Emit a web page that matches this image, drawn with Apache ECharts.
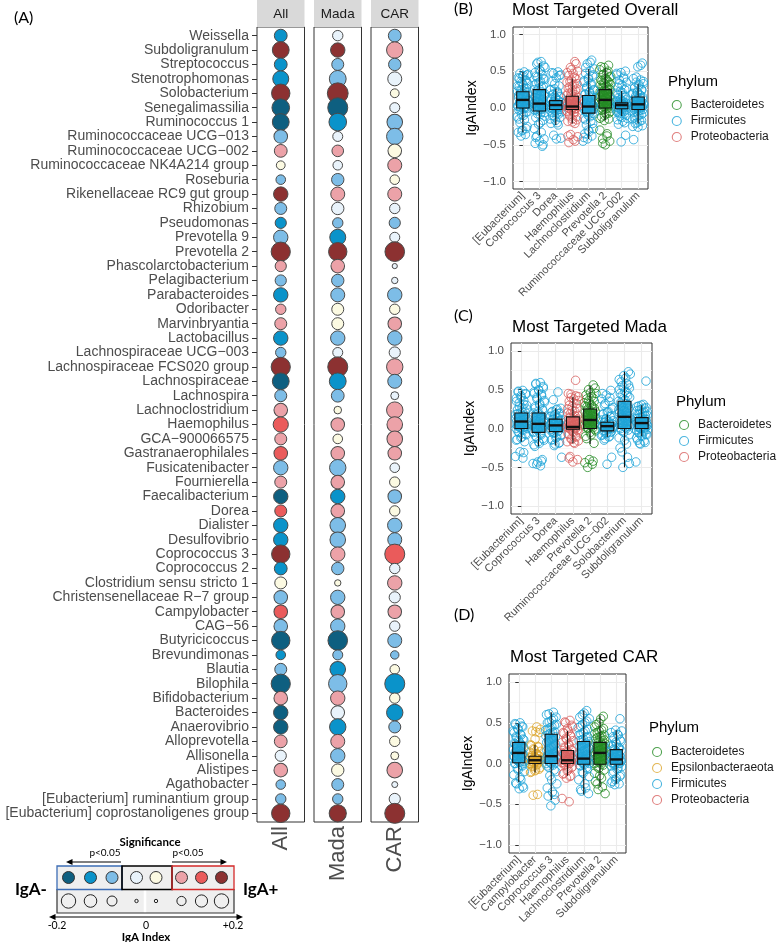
<!DOCTYPE html>
<html>
<head>
<meta charset="utf-8">
<script src="https://cdn.jsdelivr.net/npm/echarts@6/dist/echarts.min.js"></script>
<style>
  html, body { margin: 0; padding: 0; background: #fff; }
  #chart { width: 778px; height: 942px; }
</style>
</head>
<body>
<div id="chart"></div>
<script>
const FONT = '"Liberation Sans", Arial, sans-serif';
const LFONT = 'Lato, "Open Sans", sans-serif';

// ---- panel A: genera and their IgA index / significance level per cohort
const taxa = ['Weissella', 'Subdoligranulum', 'Streptococcus', 'Stenotrophomonas', 'Solobacterium',
  'Senegalimassilia', 'Ruminococcus 1', 'Ruminococcaceae UCG−013', 'Ruminococcaceae UCG−002',
  'Ruminococcaceae NK4A214 group', 'Roseburia', 'Rikenellaceae RC9 gut group', 'Rhizobium', 'Pseudomonas',
  'Prevotella 9', 'Prevotella 2', 'Phascolarctobacterium', 'Pelagibacterium', 'Parabacteroides', 'Odoribacter',
  'Marvinbryantia', 'Lactobacillus', 'Lachnospiraceae UCG−003', 'Lachnospiraceae FCS020 group',
  'Lachnospiraceae', 'Lachnospira', 'Lachnoclostridium', 'Haemophilus', 'GCA−900066575',
  'Gastranaerophilales', 'Fusicatenibacter', 'Fournierella', 'Faecalibacterium', 'Dorea', 'Dialister',
  'Desulfovibrio', 'Coprococcus 3', 'Coprococcus 2', 'Clostridium sensu stricto 1',
  'Christensenellaceae R−7 group', 'Campylobacter', 'CAG−56', 'Butyricicoccus', 'Brevundimonas', 'Blautia',
  'Bilophila', 'Bifidobacterium', 'Bacteroides', 'Anaerovibrio', 'Alloprevotella', 'Allisonella', 'Alistipes',
  'Agathobacter', '[Eubacterium] ruminantium group', '[Eubacterium] coprostanoligenes group'];

const cohorts = ['All', 'Mada', 'CAR'];

const igaAll = [-0.11, 0.16, -0.11, -0.15, 0.18, -0.17, -0.16, -0.12, 0.11, 0.06,
  -0.07, 0.13, -0.10, -0.09, -0.13, 0.19, 0.09, -0.09, -0.13, 0.08,
  0.10, -0.13, -0.08, 0.19, -0.16, -0.10, 0.12, 0.14, 0.10, 0.12,
  -0.13, 0.10, -0.13, 0.10, -0.13, -0.13, 0.18, -0.11, 0.10, -0.12,
  0.12, -0.12, -0.18, -0.07, -0.10, -0.19, 0.12, -0.13, -0.13, 0.11,
  -0.09, 0.12, -0.07, -0.08, 0.18];
const sigAll = [2, 3, 2, 2, 3, 3, 3, 1, 1, 0, 1, 3, 1, 2, 1, 3, 1, 1, 2, 1,
  1, 2, 1, 3, 3, 1, 1, 2, 1, 2, 1, 1, 3, 2, 2, 2, 3, 2, 0, 1,
  2, 1, 3, 2, 1, 3, 1, 3, 3, 1, 0, 1, 1, 1, 3];

const igaMada = [-0.08, 0.13, -0.10, -0.16, 0.21, -0.20, -0.17, -0.075, 0.095, -0.07,
  -0.105, 0.125, -0.105, -0.08, -0.15, 0.18, 0.12, -0.105, -0.125, 0.10,
  0.10, -0.13, -0.075, 0.20, -0.16, -0.11, 0.045, 0.12, 0.07, 0.12,
  -0.155, 0.12, -0.13, 0.12, -0.145, -0.145, 0.13, -0.105, 0.03, -0.13,
  0.12, -0.13, -0.195, -0.075, -0.145, -0.18, 0.13, -0.12, -0.155, 0.125,
  -0.13, 0.105, -0.10, -0.08, 0.165];
const sigMada = [0, 3, 1, 1, 3, 3, 2, 0, 1, 0, 1, 1, 0, 1, 2, 3, 1, 1, 1, 0,
  0, 1, 0, 3, 2, 1, 0, 1, 0, 1, 1, 1, 2, 1, 1, 1, 1, 1, 0, 1,
  1, 1, 3, 1, 2, 1, 1, 0, 2, 1, 1, 0, 1, 1, 3];

const igaCar = [-0.11, 0.155, -0.105, -0.125, 0.06, -0.075, -0.145, -0.155, 0.12, 0.125,
  0.07, 0.125, -0.08, -0.09, -0.075, 0.195, -0.015, -0.03, -0.13, 0.08,
  0.12, -0.13, -0.09, 0.155, -0.125, -0.05, 0.155, 0.145, 0.145, 0.12,
  -0.07, 0.08, -0.12, 0.08, -0.13, -0.125, 0.20, -0.08, 0.13, -0.09,
  0.12, -0.08, -0.125, -0.055, 0.07, -0.20, 0.08, -0.155, -0.10, 0.08,
  0.05, 0.145, -0.025, -0.09, 0.20];
const sigCar = [1, 1, 1, 0, 0, 0, 1, 1, 0, 1, 0, 1, 0, 1, 0, 3, 0, 0, 1, 0,
  1, 1, 0, 1, 1, 0, 1, 1, 1, 1, 0, 0, 1, 0, 1, 1, 2, 0, 1, 0,
  1, 0, 1, 1, 0, 2, 0, 2, 1, 0, 0, 1, 0, 0, 3];

// ---- panels B-D
const yTicks = [-1, -0.5, 0, 0.5, 1];
const yMinorTicks = [-0.75, -0.25, 0.25, 0.75];

const catsOverall = ['[Eubacterium]', 'Coprococcus 3', 'Dorea', 'Haemophilus', 'Lachnoclostridium',
  'Prevotella 2', 'Ruminococcaceae UCG−002', 'Subdoligranulum'];
const phylaOverall = ['Firmicutes', 'Firmicutes', 'Firmicutes', 'Proteobacteria', 'Firmicutes',
  'Bacteroidetes', 'Firmicutes', 'Firmicutes'];
// [min, Q1, median, Q3, max]
const boxOverall = [[-0.33, 0.0, 0.11, 0.22, 0.49], [-0.37, -0.04, 0.06, 0.25, 0.61],
  [-0.23, -0.02, 0.04, 0.10, 0.26], [-0.21, -0.02, 0.02, 0.16, 0.40], [-0.42, -0.07, 0.02, 0.17, 0.53],
  [-0.17, 0.0, 0.11, 0.25, 0.54], [-0.11, -0.01, 0.04, 0.07, 0.23], [-0.21, -0.02, 0.05, 0.15, 0.33]];
const ptsOverall = [
  [0.49, 0.47, 0.45, 0.43, 0.41, 0.38, 0.36, 0.33, 0.31, 0.29, 0.27, 0.25, 0.23, 0.22, 0.2, 0.18, 0.16, 0.14, 0.12, 0.11, 0.1, 0.08, 0.07, 0.05, 0.04, 0.03, 0.02, 0.01, 0, -0.01, -0.03, -0.06, -0.09, -0.12, -0.16, -0.2, -0.25, -0.3, -0.33, -0.36, -0.38,
   0.46, 0.44, 0.4, 0.37, 0.34, 0.3, 0.26, 0.24, 0.21, 0.19, 0.17, 0.15, 0.13, 0.1, 0.09, 0.06, 0.05, 0.03, 0.02, 0, -0.02, -0.05, -0.1, -0.15, -0.28, -0.31],
  [0.63, 0.6, 0.57, 0.52, 0.48, 0.45, 0.42, 0.39, 0.36, 0.33, 0.3, 0.27, 0.25, 0.22, 0.19, 0.16, 0.13, 0.1, 0.08, 0.07, 0.06, 0.05, 0.04, 0.02, 0.01, 0, -0.02, -0.04, -0.06, -0.09, -0.13, -0.17, -0.22, -0.28, -0.33, -0.38, -0.42, -0.45, -0.48, -0.52,
   0.62, 0.55, 0.5, 0.43, 0.4, 0.35, 0.31, 0.28, 0.24, 0.2, 0.17, 0.14, 0.12, 0.09, 0.06, 0.05, 0.03, 0.01, -0.01, -0.03, -0.05, -0.08, -0.11, -0.2, -0.4, -0.5],
  [0.49, 0.47, 0.45, 0.41, 0.36, 0.3, 0.26, 0.24, 0.21, 0.18, 0.15, 0.13, 0.11, 0.1, 0.09, 0.08, 0.07, 0.06, 0.05, 0.04, 0.04, 0.03, 0.02, 0.01, 0, -0.01, -0.02, -0.03, -0.05, -0.07, -0.1, -0.13, -0.17, -0.21, -0.23, -0.37, -0.41, -0.42,
   0.48, 0.44, 0.33, 0.25, 0.22, 0.19, 0.16, 0.14, 0.12, 0.1, 0.09, 0.07, 0.06, 0.05, 0.03, 0.02, 0.01, 0, -0.01, -0.02, -0.04, -0.06, -0.08, -0.12, -0.15, -0.2],
  [0.63, 0.55, 0.5, 0.47, 0.44, 0.4, 0.38, 0.35, 0.32, 0.29, 0.26, 0.23, 0.2, 0.18, 0.16, 0.14, 0.12, 0.1, 0.08, 0.06, 0.04, 0.03, 0.02, 0.02, 0.01, 0, -0.01, -0.02, -0.04, -0.06, -0.09, -0.12, -0.15, -0.18, -0.21, -0.36, -0.39, -0.43, -0.47,
   0.6, 0.52, 0.48, 0.42, 0.36, 0.33, 0.3, 0.27, 0.24, 0.21, 0.17, 0.15, 0.13, 0.11, 0.09, 0.07, 0.05, 0.04, 0.03, 0.01, 0, -0.01, -0.03, -0.05, -0.08, -0.11, -0.16, -0.19, -0.38, -0.45],
  [0.65, 0.6, 0.53, 0.5, 0.47, 0.43, 0.39, 0.35, 0.31, 0.27, 0.24, 0.21, 0.19, 0.17, 0.14, 0.11, 0.08, 0.06, 0.04, 0.03, 0.02, 0.01, 0, -0.01, -0.03, -0.05, -0.07, -0.1, -0.14, -0.18, -0.23, -0.28, -0.32, -0.35, -0.38, -0.42, -0.45,
   0.62, 0.55, 0.45, 0.41, 0.37, 0.33, 0.29, 0.25, 0.22, 0.18, 0.15, 0.12, 0.1, 0.07, 0.05, 0.03, 0.01, -0.02, -0.04, -0.06, -0.08, -0.12, -0.16, -0.21, -0.3, -0.4],
  [0.58, 0.55, 0.52, 0.48, 0.45, 0.42, 0.4, 0.38, 0.36, 0.34, 0.32, 0.3, 0.28, 0.26, 0.24, 0.22, 0.2, 0.18, 0.16, 0.14, 0.12, 0.11, 0.1, 0.08, 0.06, 0.05, 0.03, 0.02, 0.01, 0, -0.02, -0.05, -0.08, -0.12, -0.15, -0.17, -0.3, -0.38, -0.42, -0.45, -0.5,
   0.56, 0.5, 0.46, 0.43, 0.39, 0.37, 0.35, 0.33, 0.31, 0.29, 0.27, 0.25, 0.23, 0.21, 0.19, 0.17, 0.15, 0.13, 0.11, 0.09, 0.07, 0.05, 0.04, 0.02, 0, -0.01, -0.03, -0.07, -0.1, -0.14, -0.35, -0.48],
  [0.5, 0.48, 0.45, 0.42, 0.38, 0.35, 0.31, 0.28, 0.25, 0.23, 0.2, 0.17, 0.14, 0.11, 0.09, 0.08, 0.07, 0.06, 0.05, 0.04, 0.04, 0.03, 0.02, 0.01, 0, -0.01, -0.02, -0.04, -0.06, -0.08, -0.11, -0.14, -0.18, -0.22, -0.37, -0.46,
   0.47, 0.4, 0.33, 0.27, 0.21, 0.18, 0.15, 0.12, 0.1, 0.09, 0.08, 0.07, 0.06, 0.05, 0.04, 0.03, 0.03, 0.02, 0.01, 0, -0.01, -0.03, -0.05, -0.07, -0.1, -0.13, -0.16, -0.2],
  [0.61, 0.56, 0.4, 0.38, 0.35, 0.33, 0.3, 0.27, 0.25, 0.22, 0.2, 0.18, 0.16, 0.15, 0.13, 0.11, 0.09, 0.07, 0.06, 0.05, 0.04, 0.03, 0.02, 0.01, 0, -0.01, -0.02, -0.04, -0.06, -0.09, -0.12, -0.15, -0.18, -0.21, -0.24, -0.26, -0.43,
   0.58, 0.42, 0.36, 0.32, 0.28, 0.24, 0.21, 0.19, 0.17, 0.14, 0.12, 0.1, 0.08, 0.06, 0.05, 0.04, 0.03, 0.02, 0.01, 0, -0.01, -0.03, -0.05, -0.07, -0.1, -0.13, -0.17, -0.2, -0.25]
];

const catsMada = ['[Eubacterium]', 'Coprococcus 3', 'Dorea', 'Haemophilus', 'Prevotella 2',
  'Ruminococcaceae UCG−002', 'Solobacterium', 'Subdoligranulum'];
const phylaMada = ['Firmicutes', 'Firmicutes', 'Firmicutes', 'Proteobacteria', 'Bacteroidetes',
  'Firmicutes', 'Firmicutes', 'Firmicutes'];
const boxMada = [[-0.17, 0.0, 0.09, 0.20, 0.49], [-0.23, -0.05, 0.06, 0.20, 0.50],
  [-0.22, -0.04, 0.04, 0.12, 0.26], [-0.19, -0.01, 0.02, 0.15, 0.41], [-0.20, 0.0, 0.11, 0.25, 0.55],
  [-0.11, -0.03, 0.03, 0.08, 0.18], [-0.50, 0.0, 0.15, 0.35, 0.73], [-0.10, 0.0, 0.07, 0.14, 0.30]];
const ptsMada = [
  [0.49, 0.47, 0.45, 0.42, 0.39, 0.36, 0.33, 0.3, 0.27, 0.24, 0.22, 0.2, 0.18, 0.16, 0.14, 0.12, 0.1, 0.09, 0.08, 0.07, 0.05, 0.04, 0.03, 0.02, 0.01, 0, -0.02, -0.05, -0.08, -0.11, -0.14, -0.17, -0.3, -0.36, -0.38,
   0.48, 0.44, 0.4, 0.35, 0.31, 0.28, 0.25, 0.21, 0.19, 0.17, 0.15, 0.13, 0.11, 0.09, 0.08, 0.06, 0.04, 0.02, 0.01, 0, -0.01, -0.04, -0.07, -0.12, -0.15, -0.31],
  [0.59, 0.57, 0.54, 0.5, 0.47, 0.44, 0.4, 0.36, 0.32, 0.28, 0.25, 0.22, 0.2, 0.17, 0.14, 0.11, 0.09, 0.07, 0.06, 0.05, 0.04, 0.02, 0.01, 0, -0.02, -0.05, -0.08, -0.11, -0.15, -0.19, -0.23, -0.4, -0.43, -0.45, -0.48,
   0.58, 0.52, 0.49, 0.45, 0.42, 0.38, 0.34, 0.3, 0.26, 0.23, 0.19, 0.16, 0.13, 0.1, 0.08, 0.06, 0.03, 0.01, -0.01, -0.04, -0.07, -0.1, -0.13, -0.17, -0.21, -0.42, -0.46],
  [0.47, 0.37, 0.26, 0.24, 0.21, 0.19, 0.17, 0.15, 0.13, 0.12, 0.1, 0.08, 0.07, 0.06, 0.05, 0.04, 0.03, 0.02, 0.01, 0, -0.02, -0.04, -0.06, -0.09, -0.12, -0.15, -0.19, -0.22, -0.37,
   0.25, 0.22, 0.2, 0.18, 0.16, 0.14, 0.12, 0.11, 0.09, 0.08, 0.06, 0.05, 0.04, 0.03, 0.02, 0.01, 0, -0.01, -0.03, -0.05, -0.08, -0.11, -0.14, -0.18, -0.2],
  [0.62, 0.44, 0.41, 0.38, 0.35, 0.32, 0.28, 0.25, 0.22, 0.19, 0.17, 0.15, 0.13, 0.1, 0.08, 0.06, 0.04, 0.03, 0.02, 0.02, 0.01, 0, -0.01, -0.03, -0.05, -0.08, -0.11, -0.14, -0.17, -0.19, -0.36, -0.4, -0.43,
   0.45, 0.42, 0.4, 0.36, 0.33, 0.3, 0.26, 0.23, 0.2, 0.16, 0.14, 0.12, 0.09, 0.07, 0.05, 0.03, 0.02, 0.01, 0, -0.02, -0.04, -0.07, -0.1, -0.13, -0.16, -0.18, -0.38],
  [0.56, 0.5, 0.45, 0.41, 0.38, 0.35, 0.32, 0.29, 0.27, 0.25, 0.22, 0.2, 0.17, 0.15, 0.13, 0.11, 0.1, 0.08, 0.06, 0.04, 0.02, 0.01, 0, -0.03, -0.08, -0.13, -0.19, -0.4, -0.44, -0.46, -0.5,
   0.52, 0.46, 0.43, 0.39, 0.36, 0.33, 0.3, 0.28, 0.26, 0.23, 0.21, 0.19, 0.16, 0.14, 0.12, 0.1, 0.09, 0.07, 0.05, 0.03, 0.01, -0.01, -0.05, -0.1, -0.42],
  [0.49, 0.43, 0.38, 0.35, 0.3, 0.25, 0.21, 0.18, 0.15, 0.12, 0.1, 0.08, 0.07, 0.05, 0.04, 0.03, 0.02, 0.01, 0, -0.01, -0.03, -0.05, -0.07, -0.09, -0.11, -0.15, -0.37, -0.46,
   0.45, 0.4, 0.32, 0.27, 0.22, 0.19, 0.16, 0.13, 0.11, 0.09, 0.08, 0.06, 0.05, 0.04, 0.03, 0.02, 0.01, 0, -0.02, -0.04, -0.06, -0.08, -0.1, -0.13],
  [0.73, 0.68, 0.63, 0.58, 0.55, 0.52, 0.48, 0.45, 0.42, 0.38, 0.35, 0.32, 0.29, 0.26, 0.23, 0.2, 0.17, 0.15, 0.13, 0.1, 0.08, 0.05, 0.03, 0.01, 0, -0.03, -0.08, -0.15, -0.25, -0.37, -0.5,
   0.7, 0.65, 0.6, 0.56, 0.53, 0.5, 0.46, 0.43, 0.4, 0.37, 0.33, 0.3, 0.27, 0.24, 0.21, 0.18, 0.16, 0.14, 0.11, 0.09, 0.06, 0.04, 0.02, 0, -0.02, -0.05, -0.12, -0.2, -0.3, -0.45],
  [0.61, 0.3, 0.28, 0.26, 0.24, 0.22, 0.2, 0.18, 0.16, 0.14, 0.13, 0.11, 0.1, 0.09, 0.08, 0.07, 0.06, 0.05, 0.04, 0.03, 0.02, 0.01, 0, -0.02, -0.04, -0.06, -0.08, -0.1, -0.15, -0.18, -0.2, -0.43,
   0.31, 0.29, 0.27, 0.25, 0.23, 0.21, 0.19, 0.17, 0.15, 0.13, 0.12, 0.1, 0.09, 0.07, 0.06, 0.05, 0.03, 0.02, 0.01, 0, -0.01, -0.03, -0.05, -0.07, -0.09, -0.12, -0.16, -0.19]
];

const catsCar = ['[Eubacterium]', 'Campylobacter', 'Coprococcus 3', 'Haemophilus', 'Lachnoclostridium',
  'Prevotella 2', 'Subdoligranulum'];
const phylaCar = ['Firmicutes', 'Epsilonbacteraeota', 'Firmicutes', 'Proteobacteria', 'Firmicutes',
  'Bacteroidetes', 'Firmicutes'];
const boxCar = [[-0.23, 0.01, 0.13, 0.26, 0.49], [-0.11, 0.0, 0.04, 0.09, 0.23],
  [-0.45, 0.0, 0.09, 0.36, 0.63], [-0.15, 0.0, 0.04, 0.16, 0.40], [-0.38, -0.01, 0.06, 0.27, 0.65],
  [-0.29, -0.01, 0.13, 0.26, 0.59], [-0.25, -0.01, 0.05, 0.17, 0.41]];
const ptsCar = [
  [0.5, 0.48, 0.45, 0.42, 0.38, 0.35, 0.32, 0.29, 0.26, 0.24, 0.22, 0.2, 0.17, 0.15, 0.13, 0.12, 0.1, 0.08, 0.06, 0.04, 0.02, 0.01, 0, -0.03, -0.08, -0.14, -0.2, -0.25, -0.3, -0.31,
   0.49, 0.46, 0.43, 0.4, 0.36, 0.33, 0.3, 0.28, 0.25, 0.23, 0.21, 0.19, 0.16, 0.14, 0.12, 0.11, 0.09, 0.07, 0.05, 0.03, 0.02, 0, -0.02, -0.06, -0.1, -0.17, -0.24, -0.28],
  [0.45, 0.4, 0.38, 0.3, 0.23, 0.21, 0.18, 0.15, 0.12, 0.1, 0.09, 0.08, 0.07, 0.06, 0.05, 0.04, 0.03, 0.02, 0.01, 0, 0, -0.02, -0.04, -0.07, -0.09, -0.11, -0.38, -0.39,
   0.42, 0.39, 0.22, 0.2, 0.17, 0.14, 0.12, 0.1, 0.09, 0.08, 0.07, 0.06, 0.05, 0.04, 0.03, 0.03, 0.02, 0.01, 0, -0.01, -0.03, -0.05, -0.08, -0.1],
  [0.63, 0.61, 0.57, 0.53, 0.5, 0.47, 0.44, 0.41, 0.38, 0.36, 0.33, 0.3, 0.26, 0.22, 0.18, 0.15, 0.12, 0.1, 0.09, 0.08, 0.06, 0.04, 0.02, 0.01, 0, -0.03, -0.08, -0.15, -0.25, -0.35, -0.4, -0.45, -0.52,
   0.6, 0.55, 0.51, 0.48, 0.45, 0.42, 0.39, 0.37, 0.34, 0.31, 0.28, 0.24, 0.2, 0.16, 0.13, 0.11, 0.09, 0.07, 0.05, 0.03, 0.01, 0, -0.02, -0.05, -0.1, -0.2, -0.3, -0.38],
  [0.53, 0.5, 0.45, 0.4, 0.37, 0.33, 0.3, 0.26, 0.22, 0.19, 0.16, 0.14, 0.12, 0.1, 0.08, 0.06, 0.05, 0.04, 0.03, 0.02, 0.01, 0, -0.01, -0.04, -0.08, -0.12, -0.15, -0.18, -0.43, -0.47,
   0.51, 0.47, 0.43, 0.38, 0.35, 0.31, 0.28, 0.24, 0.2, 0.17, 0.15, 0.13, 0.11, 0.09, 0.07, 0.05, 0.04, 0.03, 0.02, 0.01, 0, -0.02, -0.05, -0.09, -0.13, -0.16],
  [0.65, 0.6, 0.55, 0.5, 0.46, 0.42, 0.38, 0.35, 0.32, 0.29, 0.27, 0.24, 0.21, 0.18, 0.15, 0.12, 0.1, 0.08, 0.06, 0.05, 0.04, 0.02, 0.01, 0, -0.01, -0.03, -0.07, -0.12, -0.2, -0.3, -0.34, -0.37,
   0.62, 0.57, 0.52, 0.48, 0.44, 0.4, 0.36, 0.33, 0.3, 0.28, 0.25, 0.22, 0.19, 0.16, 0.13, 0.11, 0.09, 0.07, 0.05, 0.03, 0.02, 0, -0.02, -0.05, -0.1, -0.16, -0.25, -0.32],
  [0.58, 0.5, 0.45, 0.41, 0.38, 0.35, 0.33, 0.3, 0.28, 0.26, 0.24, 0.22, 0.2, 0.18, 0.16, 0.14, 0.13, 0.12, 0.1, 0.08, 0.06, 0.04, 0.02, 0, -0.01, -0.04, -0.08, -0.15, -0.22, -0.29, -0.32, -0.37,
   0.55, 0.48, 0.43, 0.4, 0.37, 0.34, 0.32, 0.29, 0.27, 0.25, 0.23, 0.21, 0.19, 0.17, 0.15, 0.14, 0.12, 0.11, 0.09, 0.07, 0.05, 0.03, 0.01, -0.02, -0.06, -0.12, -0.18, -0.25],
  [0.55, 0.41, 0.38, 0.35, 0.31, 0.27, 0.24, 0.21, 0.19, 0.17, 0.15, 0.13, 0.11, 0.09, 0.07, 0.06, 0.05, 0.04, 0.03, 0.02, 0.01, 0, -0.01, -0.03, -0.06, -0.1, -0.14, -0.18, -0.22, -0.25, -0.26,
   0.4, 0.36, 0.33, 0.29, 0.26, 0.22, 0.2, 0.18, 0.16, 0.14, 0.12, 0.1, 0.08, 0.07, 0.05, 0.04, 0.03, 0.02, 0.01, 0, -0.02, -0.04, -0.07, -0.12, -0.16, -0.2, -0.24]
];

// ---- styles
const negColors = ['#e9f3fb', '#7dbde7', '#0a93ca', '#0e5f80'];
const posColors = ['#fcfae2', '#eca2a8', '#ea5b5b', '#8c3131'];
const phylumColors = {
  Bacteroidetes: '#238b23',
  Epsilonbacteraeota: '#dca52a',
  Firmicutes: '#1ca2d7',
  Proteobacteria: '#d8605f'
};

function hexA(hex, a) {
  const n = parseInt(hex.slice(1), 16);
  return `rgba(${n >> 16},${(n >> 8) & 255},${n & 255},${a})`;
}
function jitter(i) {
  return ((((i + 1) * 0.6180339887) % 1) - 0.5) * 0.7;
}

const chart = echarts.init(document.getElementById('chart'), null, { renderer: 'canvas' });

const grid = [];
const xAxis = [];
const yAxis = [];
const series = [];
const legend = [];
const graphic = [];

// ---- panel A bubble columns
const colLeft = [257, 314, 371];
const colWidth = 47.5;
const bubbleData = [[igaAll, sigAll], [igaMada, sigMada], [igaCar, sigCar]];
const rowIdx = taxa.map((t, i) => i);

cohorts.forEach((name, k) => {
  grid.push({ left: colLeft[k], top: 27, width: colWidth, height: 795, show: true,
    borderColor: '#333', borderWidth: 1, backgroundColor: '#fff', outerBoundsMode: 'none' });
  xAxis.push({ type: 'category', gridIndex: k, data: [name],
    axisLine: { show: false },
    axisTick: { show: true, alignWithLabel: true, length: 4, lineStyle: { color: '#333' } },
    axisLabel: { rotate: 90, fontSize: 22, color: '#4d4d4d', fontFamily: FONT, margin: 4 },
    splitLine: { show: false } });
  yAxis.push({ type: 'value', gridIndex: k, min: -0.6, max: taxa.length - 0.4, inverse: true,
    axisLine: { show: false },
    axisTick: { show: k === 0, customValues: rowIdx, length: 5, lineStyle: { color: '#333' } },
    axisLabel: { show: k === 0, customValues: rowIdx, formatter: v => taxa[Math.round(v)],
      showMinLabel: true, showMaxLabel: true, hideOverlap: false,
      fontSize: 14, color: '#4d4d4d', fontFamily: FONT, margin: 8 },
    splitLine: { show: false } });
  const [iga, sig] = bubbleData[k];
  series.push({
    type: 'scatter', xAxisIndex: k, yAxisIndex: k, silent: true, z: 3,
    data: iga.map((v, i) => ({
      value: [0, i, v],
      itemStyle: { color: (v < 0 ? negColors : posColors)[sig[i]] }
    })),
    symbolSize: val => 4 + 80 * Math.abs(val[2]),
    itemStyle: { borderColor: '#4a4a4a', borderWidth: 1, opacity: 1 }
  });
  // strip header
  graphic.push({ type: 'rect', shape: { x: colLeft[k], y: 0, width: colWidth, height: 27 },
    style: { fill: '#d9d9d9' } });
  graphic.push({ type: 'text', x: colLeft[k] + colWidth / 2, y: 14,
    style: { text: name, fill: '#1a1a1a', fontSize: 13.5, fontFamily: FONT, align: 'center', verticalAlign: 'middle' } });
});

// ---- panels B-D
const panels = [
  { cats: catsOverall, phyla: phylaOverall, box: boxOverall, pts: ptsOverall,
    rect: { left: 513, top: 27, width: 135, height: 162 }, legendPos: [666.7, 94] },
  { cats: catsMada, phyla: phylaMada, box: boxMada, pts: ptsMada,
    rect: { left: 511, top: 343, width: 141, height: 171 }, legendPos: [674, 414] },
  { cats: catsCar, phyla: phylaCar, box: boxCar, pts: ptsCar,
    rect: { left: 509, top: 674, width: 117, height: 179 }, legendPos: [647, 741] }
];

panels.forEach((p, j) => {
  const g = 3 + j;
  const n = p.cats.length;
  const catIdx = p.cats.map((c, i) => i);
  grid.push(Object.assign({ show: true, borderColor: '#333', borderWidth: 1,
    backgroundColor: '#fff', outerBoundsMode: 'none' }, p.rect));
  xAxis.push({ type: 'value', gridIndex: g, min: -0.6, max: n - 0.4,
    axisLine: { show: false },
    axisTick: { show: true, customValues: catIdx, length: 3.5, lineStyle: { color: '#333' } },
    axisLabel: { customValues: catIdx, formatter: v => p.cats[Math.round(v)], rotate: 45,
      showMinLabel: true, showMaxLabel: true, hideOverlap: false,
      fontSize: 11, lineHeight: 9, color: '#4d4d4d', fontFamily: FONT, margin: 5 },
    splitLine: { show: true, lineStyle: { color: '#ebebeb', width: 1.1 } } });
  yAxis.push({ type: 'value', gridIndex: g, min: -1.1, max: 1.1,
    name: 'IgAIndex', nameLocation: 'middle', nameGap: 33,
    nameTextStyle: { fontSize: 14, color: '#000', fontFamily: FONT },
    axisLine: { show: false },
    axisTick: { show: true, customValues: yTicks, length: 3.5, lineStyle: { color: '#333' } },
    axisLabel: { customValues: yTicks, formatter: v => v.toFixed(1).replace('-', '−'),
      showMinLabel: true, showMaxLabel: true,
      fontSize: 11.5, color: '#4d4d4d', fontFamily: FONT, margin: 7 },
    splitLine: { show: true, lineStyle: { color: '#ebebeb', width: 1.1 } } });
  yAxis.push({ type: 'value', gridIndex: g, min: -1.1, max: 1.1, position: 'left',
    axisLine: { show: false },
    axisTick: { show: false, customValues: yMinorTicks },
    axisLabel: { show: false, customValues: yMinorTicks },
    splitLine: { show: true, lineStyle: { color: '#f3f3f3', width: 0.7 } } });
  const yi = yAxis.length - 2;

  const phylaHere = Array.from(new Set(p.phyla)).sort();
  phylaHere.forEach(ph => {
    const data = [];
    p.pts.forEach((arr, c) => {
      if (p.phyla[c] !== ph) return;
      arr.forEach((v, i) => data.push([c + jitter(i + c * 13), v]));
    });
    series.push({ type: 'scatter', name: ph, xAxisIndex: g, yAxisIndex: yi, silent: true, z: 2,
      data, symbol: 'circle', symbolSize: 8.5,
      itemStyle: { color: 'rgba(0,0,0,0)', borderColor: phylumColors[ph], borderWidth: 1 } });
  });

  series.push({
    type: 'custom', xAxisIndex: g, yAxisIndex: yi, silent: true, z: 4,
    data: p.box.map((b, c) => [c].concat(b)),
    encode: { x: 0, y: [1, 2, 3, 4, 5] },
    renderItem: (params, api) => {
      const x = api.value(0);
      const pMin = api.coord([x, api.value(1)]);
      const pQ1 = api.coord([x, api.value(2)]);
      const pMed = api.coord([x, api.value(3)]);
      const pQ3 = api.coord([x, api.value(4)]);
      const pMax = api.coord([x, api.value(5)]);
      const w = api.size([0.75, 0])[0];
      const fill = hexA(phylumColors[p.phyla[params.dataIndex]], 0.85);
      return { type: 'group', children: [
        { type: 'line', shape: { x1: pMax[0], y1: pMax[1], x2: pQ3[0], y2: pQ3[1] }, style: { stroke: '#111', lineWidth: 1.1 } },
        { type: 'line', shape: { x1: pQ1[0], y1: pQ1[1], x2: pMin[0], y2: pMin[1] }, style: { stroke: '#111', lineWidth: 1.1 } },
        { type: 'rect', shape: { x: pQ3[0] - w / 2, y: pQ3[1], width: w, height: pQ1[1] - pQ3[1] }, style: { fill, stroke: '#111', lineWidth: 1.1 } },
        { type: 'line', shape: { x1: pMed[0] - w / 2, y1: pMed[1], x2: pMed[0] + w / 2, y2: pMed[1] }, style: { stroke: '#111', lineWidth: 2.4 } }
      ] };
    }
  });

  legend.push({ orient: 'vertical', left: p.legendPos[0], top: p.legendPos[1], selectedMode: false,
    itemWidth: 18, itemHeight: 9, itemGap: 4,
    textStyle: { fontSize: 12, color: '#1a1a1a', fontFamily: FONT },
    data: phylaHere.map(ph => ({ name: ph, icon: 'circle',
      itemStyle: { color: 'rgba(0,0,0,0)', borderColor: phylumColors[ph], borderWidth: 1.1 } })) });
});

// ---- panel A key (colour and size legend)
const keyCx = [68.5, 90.5, 112, 136.5, 156, 181.5, 201.5, 221.5];
const keyColors = [negColors[3], negColors[2], negColors[1], negColors[0], posColors[0], posColors[1], posColors[2], posColors[3]];
const keySizes = [7.2, 6.3, 5, 1.7, 1.7, 4.6, 6.1, 7.2];
const tStyle = (text, size, weight) => ({ text, fill: '#000', fontSize: size, fontWeight: weight || 'normal',
  fontFamily: LFONT, align: 'center', verticalAlign: 'middle' });

graphic.push(
  { type: 'rect', shape: { x: 57, y: 866, width: 177, height: 47 }, style: { fill: '#efefef' } },
  { type: 'line', shape: { x1: 145, y1: 890, x2: 145, y2: 913 }, style: { stroke: '#fff', lineWidth: 2.5 } },
  { type: 'rect', shape: { x: 57, y: 889.5, width: 177, height: 23.5 }, style: { fill: 'none', stroke: '#333', lineWidth: 1.2 } },
  { type: 'rect', shape: { x: 57, y: 866, width: 65, height: 23.5 }, style: { fill: 'none', stroke: '#3d6db5', lineWidth: 1.3 } },
  { type: 'rect', shape: { x: 122, y: 866, width: 50, height: 23.5 }, style: { fill: 'none', stroke: '#000', lineWidth: 1.6 } },
  { type: 'rect', shape: { x: 172, y: 866, width: 62, height: 23.5 }, style: { fill: 'none', stroke: '#d42a2a', lineWidth: 1.3 } },
  { type: 'text', x: 150, y: 842, style: tStyle('Significance', 11.5, 'bold') },
  { type: 'text', x: 105, y: 853, style: tStyle('p<0.05', 10) },
  { type: 'text', x: 188, y: 853, style: tStyle('p<0.05', 10) },
  { type: 'line', shape: { x1: 121, y1: 862, x2: 70, y2: 862 }, style: { stroke: '#000', lineWidth: 1.2 } },
  { type: 'polygon', shape: { points: [[66, 862], [72.5, 859], [72.5, 865]] }, style: { fill: '#000' } },
  { type: 'line', shape: { x1: 172, y1: 862, x2: 223, y2: 862 }, style: { stroke: '#000', lineWidth: 1.2 } },
  { type: 'polygon', shape: { points: [[227, 862], [220.5, 859], [220.5, 865]] }, style: { fill: '#000' } },
  { type: 'text', x: 15, y: 890, style: { text: 'IgA-', fill: '#000', fontSize: 17, fontWeight: 'bold', fontFamily: LFONT, align: 'left', verticalAlign: 'middle' } },
  { type: 'text', x: 243, y: 890, style: { text: 'IgA+', fill: '#000', fontSize: 17, fontWeight: 'bold', fontFamily: LFONT, align: 'left', verticalAlign: 'middle' } },
  { type: 'line', shape: { x1: 53, y1: 917, x2: 239, y2: 917 }, style: { stroke: '#000', lineWidth: 1.2 } },
  { type: 'polygon', shape: { points: [[49, 917], [55.5, 914], [55.5, 920]] }, style: { fill: '#000' } },
  { type: 'polygon', shape: { points: [[243, 917], [236.5, 914], [236.5, 920]] }, style: { fill: '#000' } },
  { type: 'text', x: 57, y: 926, style: tStyle('-0.2', 10.5) },
  { type: 'text', x: 146, y: 926, style: tStyle('0', 10.5) },
  { type: 'text', x: 233, y: 926, style: tStyle('+0.2', 10.5) },
  { type: 'text', x: 146, y: 937, style: tStyle('IgA Index', 11.5, 'bold') }
);
keyCx.forEach((cx, i) => {
  graphic.push({ type: 'circle', shape: { cx, cy: 877.5, r: 6 }, style: { fill: keyColors[i], stroke: '#333', lineWidth: 1 } });
  graphic.push({ type: 'circle', shape: { cx, cy: 901, r: keySizes[i] }, style: { fill: 'none', stroke: '#222', lineWidth: 1 } });
});

const titleStyle = (size, fam) => ({ fontSize: size, fontWeight: 'normal', color: '#000', fontFamily: fam });
const title = [
  { text: '(A)', left: 14, top: 10, padding: 0, textStyle: titleStyle(16, LFONT) },
  { text: '(B)', left: 454, top: 1, padding: 0, textStyle: titleStyle(16, LFONT) },
  { text: 'Most Targeted Overall', left: 512, top: 2, padding: 0, textStyle: titleStyle(17, FONT) },
  { text: '(C)', left: 454, top: 308, padding: 0, textStyle: titleStyle(16, LFONT) },
  { text: 'Most Targeted Mada', left: 512, top: 319, padding: 0, textStyle: titleStyle(17, FONT) },
  { text: '(D)', left: 454, top: 607, padding: 0, textStyle: titleStyle(16, LFONT) },
  { text: 'Most Targeted CAR', left: 510, top: 649, padding: 0, textStyle: titleStyle(17, FONT) },
  { text: 'Phylum', left: 668, top: 74, padding: 0, textStyle: titleStyle(15, FONT) },
  { text: 'Phylum', left: 676, top: 394, padding: 0, textStyle: titleStyle(15, FONT) },
  { text: 'Phylum', left: 649, top: 720, padding: 0, textStyle: titleStyle(15, FONT) }
];

chart.setOption({
  animation: false,
  backgroundColor: '#fff',
  textStyle: { fontFamily: FONT },
  title, grid, xAxis, yAxis, legend, series, graphic
});
</script>
</body>
</html>
